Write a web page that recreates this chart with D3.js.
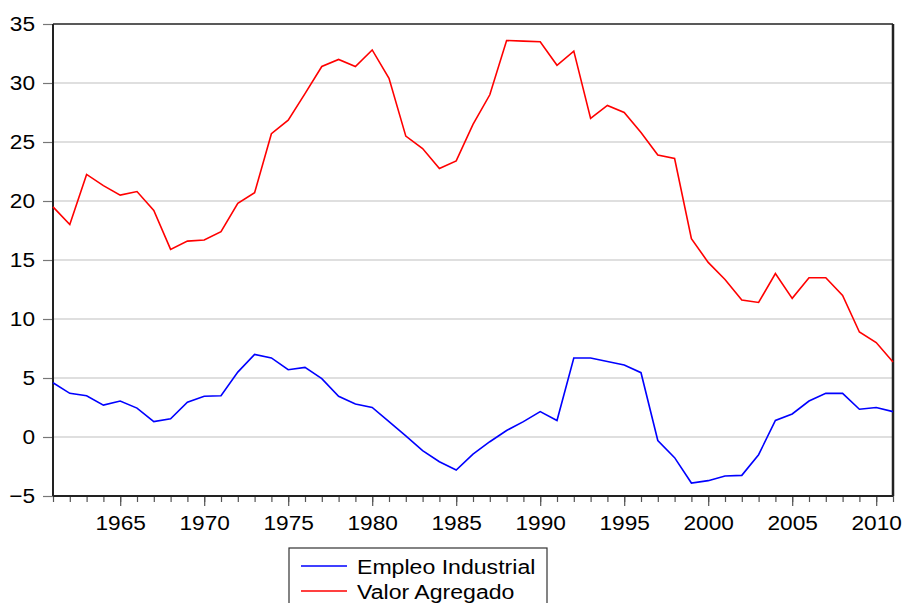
<!DOCTYPE html>
<html>
  <head>
    <meta charset="utf-8">
    <title>Empleo Industrial y Valor Agregado</title>
    <script src="https://d3js.org/d3.v7.min.js"></script>
    <style>
      body { margin: 0; background: #fff; }
      svg text { font-family: "Liberation Sans", Arial, sans-serif; fill: #000; }
    </style>
  </head>
  <body>
    <svg id="chart" width="906" height="603"></svg>
    <script>
      // years 1961..2011
      var years = d3.range(1961, 2012);

      var empleo = [4.6, 3.7, 3.5, 2.7, 3.05, 2.45, 1.3, 1.55, 2.95, 3.45,
                    3.5, 5.5, 7.0, 6.7, 5.7, 5.9, 4.95, 3.45, 2.8, 2.5,
                    1.3, 0.1, -1.15, -2.1, -2.8, -1.45, -0.4, 0.55, 1.3, 2.15,
                    1.4, 6.7, 6.7, 6.4, 6.1, 5.45, -0.3, -1.75, -3.9, -3.7,
                    -3.3, -3.25, -1.5, 1.4, 1.95, 3.05, 3.7, 3.7, 2.35, 2.5, 2.15];

      var valor = [19.5, 18.0, 22.25, 21.3, 20.5, 20.8, 19.2, 15.9, 16.6, 16.7,
                   17.4, 19.8, 20.7, 25.7, 26.85, 29.1, 31.4, 32.0, 31.4, 32.8,
                   30.4, 25.5, 24.45, 22.75, 23.4, 26.5, 29.0, 33.6, 33.55, 33.5,
                   31.5, 32.7, 27.0, 28.1, 27.5, 25.8, 23.9, 23.6, 16.8, 14.8,
                   13.35, 11.6, 11.4, 13.85, 11.75, 13.5, 13.5, 12.0, 8.9, 8.0, 6.35];

      var yTicks = [-5, 0, 5, 10, 15, 20, 25, 30, 35];
      var xLabels = [1965, 1970, 1975, 1980, 1985, 1990, 1995, 2000, 2005, 2010];

      var series = [
        {name: "Empleo Industrial", values: empleo, color: "#0000ff"},
        {name: "Valor Agregado", values: valor, color: "#ff0000"}
      ];

      // note: "top" is a reserved window prop, so use plot* names
      var plotL = 53, plotR = 893, plotT = 24, plotB = 496;
      var svg = d3.select("#chart");

      var x = d3.scaleLinear().domain([1961, 2011]).range([plotL, plotR]);
      var y = d3.scaleLinear().domain([-5, 35]).range([plotB, plotT]);

      // grid
      svg.append("g")
        .selectAll("line")
        .data(yTicks.filter(d => d > -5 && d < 35))
        .join("line")
        .attr("x1", plotL).attr("x2", plotR)
        .attr("y1", d => y(d)).attr("y2", d => y(d))
        .style("stroke", "#d4d4d4")
        .style("stroke-width", 1.3);

      // y axis
      var yAxis = svg.append("g")
        .attr("transform", "translate(" + plotL + ",0)")
        .call(d3.axisLeft(y).tickValues(yTicks).tickSize(10).tickPadding(8).tickFormat(d3.format("d")));
      yAxis.select(".domain").remove();
      yAxis.selectAll(".tick line").style("stroke", "#777").style("stroke-width", 1.2);
      yAxis.selectAll("text").style("font-size", "21px")
        .attr("transform", "scale(1.08,1)")
        .attr("x", -18 / 1.08);

      // x axis: minor ticks each year, major every 5
      var xMinor = svg.append("g")
        .attr("transform", "translate(0," + plotB + ")")
        .call(d3.axisBottom(x).tickValues(years).tickSize(6).tickFormat(""));
      xMinor.select(".domain").remove();
      xMinor.selectAll(".tick line").style("stroke", "#555").style("stroke-width", 1.2);

      var xAxis = svg.append("g")
        .attr("transform", "translate(0," + plotB + ")")
        .call(d3.axisBottom(x).tickValues(xLabels).tickSize(10).tickPadding(9).tickFormat(d3.format("d")));
      xAxis.select(".domain").remove();
      xAxis.selectAll(".tick line").style("stroke", "#555").style("stroke-width", 1.2);
      xAxis.selectAll("text").style("font-size", "21px")
        .attr("transform", "scale(1.08,1)");

      // frame
      svg.append("line").attr("x1", plotL).attr("x2", plotR).attr("y1", plotT).attr("y2", plotT)
        .style("stroke", "#222").style("stroke-width", 1.5);
      svg.append("line").attr("x1", plotR).attr("x2", plotR).attr("y1", plotT).attr("y2", plotB)
        .style("stroke", "#222").style("stroke-width", 2.5);
      svg.append("line").attr("x1", plotL).attr("x2", plotL).attr("y1", plotT).attr("y2", plotB)
        .style("stroke", "#222").style("stroke-width", 2);
      svg.append("line").attr("x1", plotL).attr("x2", plotR).attr("y1", plotB).attr("y2", plotB)
        .style("stroke", "#222").style("stroke-width", 2);

      // lines
      var line = d3.line()
        .x((d, i) => x(years[i]))
        .y(d => y(d));

      svg.append("g")
        .selectAll("path")
        .data(series)
        .join("path")
        .attr("d", d => line(d.values))
        .style("fill", "none")
        .style("stroke", d => d.color)
        .style("stroke-width", 1.6);

      // legend
      var lg = svg.append("g").attr("transform", "translate(289,548)");
      lg.append("rect")
        .attr("x", 0).attr("y", 0).attr("width", 258).attr("height", 70)
        .style("fill", "#fff").style("stroke", "#333").style("stroke-width", 1.2);
      var items = lg.selectAll("g.item")
        .data(series)
        .join("g")
        .classed("item", true)
        .attr("transform", (d, i) => "translate(0," + (18 + i * 25) + ")");
      items.append("line")
        .attr("x1", 12).attr("x2", 58).attr("y1", 0).attr("y2", 0)
        .style("stroke", d => d.color).style("stroke-width", 1.5);
      items.append("text")
        .attr("x", 68).attr("y", 7.5)
        .style("font-size", "21px")
        .attr("transform", "translate(68,0) scale(1.1,1) translate(-68,0)")
        .text(d => d.name);
    </script>
  </body>
</html>
